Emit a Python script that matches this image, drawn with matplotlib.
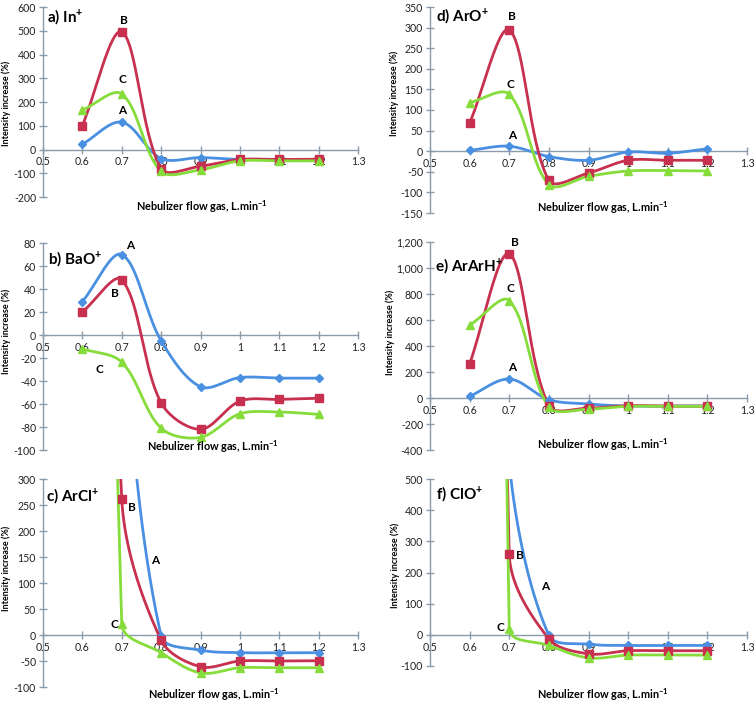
import numpy as np
import matplotlib
matplotlib.use("Agg")
import matplotlib.pyplot as plt
from matplotlib.ticker import FuncFormatter, MultipleLocator

plt.rcParams['font.family'] = ['Lato', 'DejaVu Sans']
plt.rcParams['mathtext.fontset'] = 'custom'
plt.rcParams['mathtext.rm'] = 'Lato'
plt.rcParams['mathtext.bf'] = 'Lato:bold'

flow = [0.6, 0.7, 0.8, 0.9, 1.0, 1.1, 1.2]

# a) In+
in_A = [22, 115, -38, -34, -42, -42, -42]
in_B = [101, 495, -80, -70, -42, -42, -41]
in_C = [166, 234, -92, -85, -48, -48, -48]
# d) ArO+
aro_A = [2, 12, -13, -22, -2, -5, 6]
aro_B = [68, 294, -71, -53, -22, -22, -22]
aro_C = [118, 138, -81, -61, -48, -47, -48]
# b) BaO+
bao_A = [29, 70, -5, -45, -37, -37.5, -37.5]
bao_B = [20, 48, -59, -82, -57.5, -56, -55]
bao_C = [-12, -23.6, -81, -89, -68.5, -67, -69]
# e) ArArH+
ararh_A = [13, 146, -13, -46, -62, -62, -62]
ararh_B = [262, 1108, -59, -77, -59, -62, -62]
ararh_C = [559, 749, -69, -85, -64, -64, -64]
# c) ArCl+ (first values far above the axis range)
arcl_A = [2000, 650, -2, -29, -34, -34, -34]
arcl_B = [3000, 262, -10, -61, -50, -50, -49.5]
arcl_C = [5000, 21, -34, -73, -63, -63, -63]
# f) ClO+
clo_A = [2500, 550, -2, -30, -34, -34, -34]
clo_B = [10000, 259, -13, -61, -51, -51, -51]
clo_C = [15000, 19, -34, -74, -65, -65, -65]

col_A, col_B, col_C = '#4A90E2', '#C8304F', '#86DC3A'
axis_col = '#8A9BAB'

W, H = 756, 705
fig = plt.figure(figsize=(W / 100, H / 100), dpi=100)


def smooth(x, y, sx, sy, n=40):
    # Excel-like smoothed line: bezier segments with chord-weighted tangents
    P = np.column_stack([np.asarray(x, float) * sx, np.asarray(y, float) * sy])
    m = len(P)
    cin = P.copy()
    cout = P.copy()
    for i in range(m):
        if i == 0:
            cout[i] = P[0] + (P[1] - P[0]) / 3
        elif i == m - 1:
            cin[i] = P[i] - (P[i] - P[i - 1]) / 3
        else:
            T = P[i + 1] - P[i - 1]
            d1 = np.hypot(*(P[i] - P[i - 1]))
            d2 = np.hypot(*(P[i + 1] - P[i]))
            cin[i] = P[i] - T / 3 * d1 / (d1 + d2)
            cout[i] = P[i] + T / 3 * d2 / (d1 + d2)
    t = np.linspace(0, 1, n)[:, None]
    pts = []
    for i in range(m - 1):
        b = ((1 - t) ** 3 * P[i] + 3 * (1 - t) ** 2 * t * cout[i]
             + 3 * (1 - t) * t ** 2 * cin[i + 1] + t ** 3 * P[i + 1])
        pts.append(b if i == 0 else b[1:])
    pts = np.vstack(pts)
    return pts[:, 0] / sx, pts[:, 1] / sy


def panel(box, ylim, ystep, series, title, tpos, labels, xlab, ylab, comma=False):
    x0, y0, x1, y1 = box
    ax = fig.add_axes([x0 / W, 1 - y1 / H, (x1 - x0) / W, (y1 - y0) / H])
    ax.set_xlim(0.5, 1.3)
    ax.set_ylim(*ylim)
    sx = (x1 - x0) / 0.8
    sy = (y1 - y0) / (ylim[1] - ylim[0])
    for vals, c, mk, ms in series:
        xs, ys = smooth(flow, vals, sx, sy)
        ax.plot(xs, ys, color=c, lw=2.0, zorder=3)
        ax.plot(flow, vals, ls='none', marker=mk, ms=ms, color=c, zorder=4)
    for s in ['top', 'right']:
        ax.spines[s].set_visible(False)
    ax.spines['bottom'].set_position(('data', 0))
    for s in ['left', 'bottom']:
        ax.spines[s].set_color(axis_col)
        ax.spines[s].set_linewidth(1.0)
        ax.spines[s].set_zorder(1)
    ax.xaxis.set_major_locator(MultipleLocator(0.1))
    ax.yaxis.set_major_locator(MultipleLocator(ystep))
    ax.xaxis.set_major_formatter(FuncFormatter(lambda v, p: '%g' % round(v, 2)))
    if comma:
        ax.yaxis.set_major_formatter(FuncFormatter(lambda v, p: '{:,.0f}'.format(v)))
    else:
        ax.yaxis.set_major_formatter(FuncFormatter(lambda v, p: '%g' % v))
    ax.tick_params(direction='inout', length=6, width=1, color=axis_col,
                   labelsize=7.6, labelcolor='#222222', pad=2)
    ax.patch.set_alpha(0)
    fig.text(tpos[0] / W, 1 - tpos[1] / H, title, fontsize=11,
             fontweight='bold', va='center', ha='left')
    for txt, lx, ly in labels:
        ax.text(lx, ly, txt, fontsize=8.5, fontweight='bold', ha='center',
                va='center', zorder=5)
    fig.text(xlab[0] / W, 1 - xlab[1] / H,
             r'Nebulizer flow gas, L.min$^{\mathbf{-1}}$', fontsize=7.8,
             fontweight='bold', ha='center', va='center')
    fig.text(ylab[0] / W, 1 - ylab[1] / H, 'Intensity increase (%)',
             fontsize=6.5, fontweight='bold', rotation=90, ha='center', va='center')
    return ax


def ser(a, b, c):
    return [(a, col_A, 'D', 4.2), (b, col_B, 's', 5.8), (c, col_C, '^', 5.8)]


panel((43, 7, 358, 197), (-200, 600), 100, ser(in_A, in_B, in_C),
      r'a) In$^{\mathbf{+}}$', (47, 17),
      [('B', 0.705, 544), ('C', 0.703, 296), ('A', 0.7, 166)],
      (202, 207), (6, 103))
panel((430, 7, 747, 213), (-150, 350), 50, ser(aro_A, aro_B, aro_C),
      r'd) ArO$^{\mathbf{+}}$', (436, 16),
      [('B', 0.706, 326), ('C', 0.704, 162), ('A', 0.706, 38)],
      (603, 208), (394, 93))
panel((43, 243, 358, 450), (-100, 80), 20, ser(bao_A, bao_B, bao_C),
      r'b) BaO$^{\mathbf{+}}$', (48, 259),
      [('A', 0.721, 77.7), ('B', 0.683, 36), ('C', 0.644, -30)],
      (213, 447), (6, 331))
panel((430, 242, 747, 450), (-400, 1200), 200, ser(ararh_A, ararh_B, ararh_C),
      r'e) ArArH$^{\mathbf{+}}$', (435, 266),
      [('B', 0.714, 1200), ('C', 0.704, 846), ('A', 0.706, 231)],
      (603, 445), (390, 332), comma=True)
panel((43, 479, 358, 687), (-100, 300), 50, ser(arcl_A, arcl_B, arcl_C),
      r'c) ArCl$^{\mathbf{+}}$', (46, 496),
      [('B', 0.726, 245), ('A', 0.784, 143), ('C', 0.682, 21)],
      (214, 695), (6, 568))
panel((430, 479, 747, 666), (-100, 500), 100, ser(clo_A, clo_B, clo_C),
      r'f) ClO$^{\mathbf{+}}$', (436, 494),
      [('B', 0.726, 256), ('A', 0.79, 154), ('C', 0.677, 25)],
      (603, 695), (395, 565))

fig.savefig('out.png', dpi=100)
